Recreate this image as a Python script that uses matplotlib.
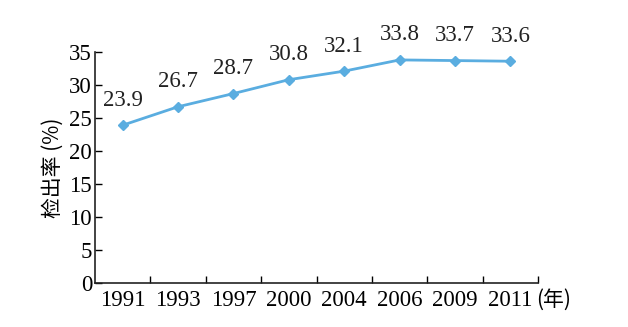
import matplotlib
matplotlib.use("Agg")
from matplotlib import pyplot as plt

years = ["1991", "1993", "1997", "2000", "2004", "2006", "2009", "2011"]
rates = [23.9, 26.7, 28.7, 30.8, 32.1, 33.8, 33.7, 33.6]
y_ticks = [0, 5, 10, 15, 20, 25, 30, 35]

plt.rcParams["font.family"] = ["Liberation Serif", "Noto Sans CJK SC"]
plt.rcParams["font.size"] = 16.5

fig = plt.figure(figsize=(6.28, 3.27), dpi=100)
ax = fig.add_axes([0.151, 0.1346, 0.706, 0.7064])

x = list(range(len(years)))
ax.plot(x, rates, color="#5aade0", linewidth=2, marker="D", markersize=5,
        markerfacecolor="#5aade0", markeredgecolor="#5aade0")

for xi, v in zip(x, rates):
    ax.annotate(f"{v:.1f}", (xi, v), xytext=(0, 18), textcoords="offset points",
                ha="center", va="center", color="#222222")

ax.set_xlim(-0.5, len(years) - 0.5)
ax.set_ylim(0, 35)
ax.set_yticks(y_ticks)
ax.set_xticks([i + 0.5 for i in range(len(years))])
ax.set_xticklabels([])
ax.set_xticks(x, minor=True)
ax.set_xticklabels(years, minor=True)
ax.tick_params(axis="x", which="minor", length=0, pad=5)
ax.tick_params(axis="both", which="major", direction="in", length=5, width=1)
ax.tick_params(axis="y", pad=2)

for s in ["top", "right"]:
    ax.spines[s].set_visible(False)
for s in ["left", "bottom"]:
    ax.spines[s].set_linewidth(1.2)
    ax.spines[s].set_color("#222222")

ax.set_ylabel("检出率 (%)", family=["Noto Sans CJK SC", "DejaVu Sans"], fontsize=15, labelpad=4)
ax.text(0.995, -0.072, "(年)", transform=ax.transAxes, ha="left", va="center",
        family=["Noto Sans CJK SC", "DejaVu Sans"], fontsize=15)

fig.savefig("out.png", dpi=100)
